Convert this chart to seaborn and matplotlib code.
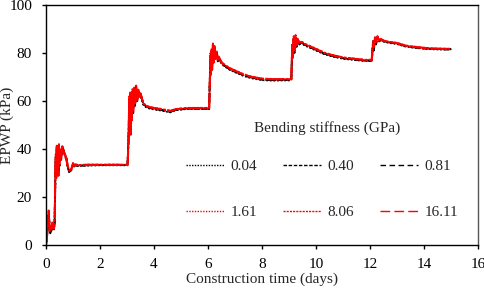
import matplotlib
matplotlib.use("Agg")
import pandas as pd
import seaborn as sns
import matplotlib.pyplot as plt

# Construction time (days), shared by all series
days = [0, 0.04, 0.08, 0.1, 0.13, 0.16, 0.2, 0.24, 0.28, 0.32, 0.34, 0.36, 0.38, 0.4, 0.42, 0.44,
        0.46, 0.48, 0.5, 0.53, 0.56, 0.6, 0.64, 0.68, 0.72, 0.76, 0.8, 0.85, 0.9, 0.95, 1.0, 1.05,
        1.1, 1.2, 1.5, 2.0, 2.5, 3.02,
        3.06, 3.08, 3.1, 3.12, 3.14, 3.16, 3.18, 3.2, 3.23, 3.26, 3.3, 3.34, 3.38, 3.42, 3.46, 3.5,
        3.6, 3.7, 3.8, 4.0, 4.3, 4.6, 4.8, 5.2, 5.6, 6.04,
        6.07, 6.09, 6.11, 6.13, 6.15, 6.18, 6.21, 6.24, 6.28, 6.32, 6.36, 6.4, 6.5, 6.6, 6.8, 7.0,
        7.3, 7.6, 8.0, 8.4, 8.8, 9.08,
        9.1, 9.12, 9.14, 9.17, 9.2, 9.24, 9.28, 9.32, 9.38, 9.45, 9.6, 9.8, 10.0, 10.3, 10.6, 11.0,
        11.4, 11.8, 12.06,
        12.08, 12.11, 12.14, 12.18, 12.22, 12.27, 12.33, 12.4, 12.5, 12.7, 13.0, 13.3, 13.6, 14.0,
        14.4, 14.8, 15.0]

# EPWP (kPa) for each bending stiffness
epwp_004 = ([0, 4, 10, 13, 7, 6, 8, 7, 8, 8, 22, 34, 31, 39, 34, 37, 31, 40, 35, 38, 37, 40, 39.5, 38,
             36.5, 35.5, 32.5, 30.5, 30.5, 31.5, 33.5, 32.8, 33.2, 33, 33.2, 33.3, 33.3, 33.3]
            + [47, 58, 52, 61, 50, 57, 55, 62, 57, 63, 60, 65, 62, 63.5, 61.5, 62.5, 58.5, 57.5, 57,
               56.5, 56, 55.3, 56.2, 56.7, 56.7, 56.7]
            + [72, 77, 74, 79, 75, 82, 78, 81, 78.5, 79.5, 77.5, 77.5, 75.5, 74.5, 73, 72, 70.5, 69.5,
               68.7, 68.5, 68.6, 68.6]
            + [77, 81, 80, 85, 82, 86, 83.5, 84.5, 84, 84, 83, 82, 81, 79.5, 78.5, 77.6, 77.1, 76.7, 76.7]
            + [81, 83, 83, 85, 84.5, 86, 85.2, 85.2, 84.7, 84.2, 83.7, 82.7, 82.2, 81.8, 81.5, 81.4, 81.5])

epwp_040 = ([0, 6, 8, 14, 9, 5, 7, 9, 6, 10, 26, 37, 28, 41, 32, 39, 29, 42, 33, 40, 35.5, 41, 40, 38.5,
             37, 35.8, 32.8, 30.8, 30.8, 31.8, 33.8, 33, 33.3, 33.1, 33.3, 33.4, 33.4, 33.4]
            + [44, 61, 49, 63, 47, 59, 52, 64, 55, 65, 58, 66, 60, 64.5, 61.8, 62.8, 58.8, 57.8, 57.2,
               56.8, 56.2, 55.5, 56.3, 56.8, 56.8, 56.8]
            + [69, 79, 71, 81, 73, 83, 76, 82.5, 77.5, 80.5, 76.5, 78, 75.8, 74.8, 73.2, 72.2, 70.8,
               69.8, 68.9, 68.7, 68.8, 68.8]
            + [74, 83, 78, 86.5, 80, 87, 82.5, 85.5, 83.5, 84.3, 83.3, 82.3, 81.3, 79.8, 78.8, 77.8,
               77.3, 76.8, 76.8]
            + [79, 85, 81, 86.5, 83.5, 86.8, 84.8, 85.7, 84.9, 84.4, 83.9, 82.9, 82.4, 81.9, 81.7,
               81.5, 81.6])

epwp_081 = ([0, 5, 9, 13.5, 8, 7, 6, 8, 8, 9, 23, 35, 30, 40, 33.5, 38, 30.5, 41, 34, 39, 36.5, 40.5,
             40, 38.2, 37, 35.9, 33, 31, 31, 32, 34, 33, 33.4, 33.1, 33.3, 33.4, 33.4, 33.4]
            + [46, 59, 51, 62, 49, 58, 54, 63, 56, 64, 59, 65.5, 61, 64, 62, 63, 59, 58, 57.3, 56.8,
               56.3, 55.6, 56.4, 56.9, 56.9, 56.9]
            + [71, 78, 73, 80, 74, 82.5, 77, 81.5, 78, 80, 77, 77.8, 75.8, 74.8, 73.3, 72.3, 70.8,
               69.8, 69, 68.8, 68.9, 68.9]
            + [76, 82, 79, 85.5, 81, 86.5, 83, 85, 84, 84.3, 83.3, 82.3, 81.3, 79.8, 78.8, 77.8, 77.3,
               76.9, 76.9]
            + [80, 84, 82, 85.5, 84, 86.3, 85, 85.4, 84.9, 84.4, 83.9, 82.9, 82.4, 81.9, 81.7, 81.5,
               81.6])

epwp_161 = ([0, 5, 9, 14, 8, 6, 7, 8, 7, 9, 24, 36, 29, 40, 33, 38, 30, 41, 34, 39, 36, 41, 40, 38,
             37, 36, 33, 31, 31, 32, 34, 33, 33.5, 33.2, 33.4, 33.5, 33.5, 33.5]
            + [45, 60, 50, 62, 48, 58, 53, 63, 56, 64, 59, 66, 61, 64, 62, 63, 59, 58, 57.5, 57, 56.5,
               55.8, 56.5, 57, 57, 57]
            + [70, 78, 72, 80, 74, 83, 77, 82, 78, 80, 77, 78, 76, 75, 73.5, 72.5, 71, 70, 69.2, 69,
               69, 69]
            + [75, 82, 79, 86, 81, 87, 83, 85, 84, 84.5, 83.5, 82.5, 81.5, 80, 79, 78, 77.5, 77, 77]
            + [80, 84, 82, 86, 84, 86.5, 85, 85.5, 85, 84.5, 84, 83, 82.5, 82, 81.8, 81.6, 81.7])

epwp_806 = ([0, 6, 10, 12, 9, 7, 8, 10, 8, 11, 27, 38, 30, 42, 34, 40, 31, 42, 35, 40, 37, 41.5, 40.5,
             38.5, 37.5, 36.2, 33.5, 31.5, 31.2, 32.3, 34.2, 33.3, 33.7, 33.4, 33.6, 33.6, 33.6, 33.6]
            + [48, 62, 47, 64, 51, 60, 55, 65, 57, 66, 60, 66.5, 62, 64.8, 62.5, 63.3, 59.3, 58.2,
               57.7, 57.2, 56.7, 56, 56.7, 57.2, 57.2, 57.2]
            + [73, 80, 71, 82, 76, 84, 78, 83, 79, 81, 78, 78.5, 76.3, 75.3, 73.8, 72.8, 71.3, 70.2,
               69.4, 69.2, 69.2, 69.2]
            + [78, 84, 80, 87, 82, 87.5, 84, 86, 84.5, 84.8, 83.8, 82.8, 81.8, 80.2, 79.2, 78.2, 77.7,
               77.2, 77.2]
            + [82, 85, 83, 87, 85, 87, 85.5, 86, 85.2, 84.7, 84.2, 83.2, 82.7, 82.2, 81.9, 81.8, 81.8])

epwp_1611 = ([0, 4, 8, 14.5, 7, 5, 6, 9, 7, 8, 25, 37, 28, 41, 32, 39, 29, 41.5, 33, 39.5, 36, 41.2,
              40.2, 38.3, 37.2, 36.1, 33.2, 31.2, 31, 32.1, 34.1, 33.2, 33.6, 33.3, 33.5, 33.5, 33.5,
              33.5]
             + [43, 61, 49, 63, 46, 59, 52, 64, 55, 65, 58, 66, 60.5, 64.5, 62.2, 63.1, 59.1, 58.1,
                57.6, 57.1, 56.6, 55.9, 56.6, 57.1, 57.1, 57.1]
             + [69, 79, 73, 81, 73, 83.5, 76, 82.5, 77.5, 80.5, 77.5, 78.2, 76.1, 75.1, 73.6, 72.6,
                71.1, 70.1, 69.3, 69.1, 69.1, 69.1]
             + [76, 83, 78, 86, 80, 86.8, 83.5, 85.5, 84.2, 84.6, 83.6, 82.6, 81.6, 80.1, 79.1, 78.1,
                77.6, 77.1, 77.1]
             + [81, 84.5, 82.5, 86, 84.2, 86.8, 85.3, 85.8, 85.1, 84.6, 84.1, 83.1, 82.6, 82.1, 81.8,
                81.7, 81.7])

labels = ["0.04", "0.40", "0.81", "1.61", "8.06", "16.11"]
series = [epwp_004, epwp_040, epwp_081, epwp_161, epwp_806, epwp_1611]
colors = ["black", "black", "black", "#ff0000", "#ff0000", "#ff0000"]
styles = [(0, (1, 1)), (0, (2.5, 1.2)), (0, (4, 2.5)), (0, (1, 1)), (0, (1.5, 0.8)), (0, (7, 3))]
widths = [1.3, 1.3, 1.3, 1.3, 1.3, 1.5]

sns.set_style("ticks")
plt.rcParams["font.family"] = ["Liberation Serif", "DejaVu Serif"]
plt.rcParams["font.size"] = 11

fig, ax = plt.subplots(figsize=(4.84, 2.88), dpi=100)
fig.subplots_adjust(left=0.095, right=0.988, top=0.983, bottom=0.148)

handles = []
for lab, vals, col, ls, lw in zip(labels, series, colors, styles, widths):
    df = pd.DataFrame({"days": days, "epwp": vals})
    sns.lineplot(data=df, x="days", y="epwp", ax=ax, color=col, linewidth=lw,
                 estimator=None, sort=False, label=lab)
    line = ax.get_lines()[-1]
    line.set_linestyle(ls)
    handles.append(line)

ax.set_xlim(0, 16)
ax.set_ylim(0, 100)
ax.set_xticks(range(0, 17, 2))
ax.set_yticks(range(0, 101, 20))
ax.set_xlabel("Construction time (days)", fontsize=11, labelpad=1)
ax.set_ylabel("EPWP (kPa)", fontsize=11)
ax.yaxis.set_label_coords(-0.074, 0.5)
ax.tick_params(direction="out", length=3, width=1, labelsize=11, colors="black")
ax.tick_params(axis="y", pad=7)
ax.tick_params(axis="x", pad=6)
for sp in ax.spines.values():
    sp.set_visible(True)
    sp.set_color("black")
    sp.set_linewidth(1)
ax.spines["right"].set_color("#555555")

# legend: rows 0.04/0.40/0.81 and 1.61/8.06/16.11
order = [0, 3, 1, 4, 2, 5]
leg = ax.legend([handles[i] for i in order], [labels[i] for i in order], ncol=3, loc="center",
                bbox_to_anchor=(0.639, 0.233), frameon=False, fontsize=11, labelspacing=2.1,
                handlelength=2.5, handletextpad=0.4, columnspacing=1.7)
for h in leg.get_lines():
    h.set_linewidth(1.0)
ax.text(0.65, 0.489, "Bending stiffness (GPa)", transform=ax.transAxes, ha="center", va="center",
        fontsize=11)

fig.savefig("out.png", dpi=100)
